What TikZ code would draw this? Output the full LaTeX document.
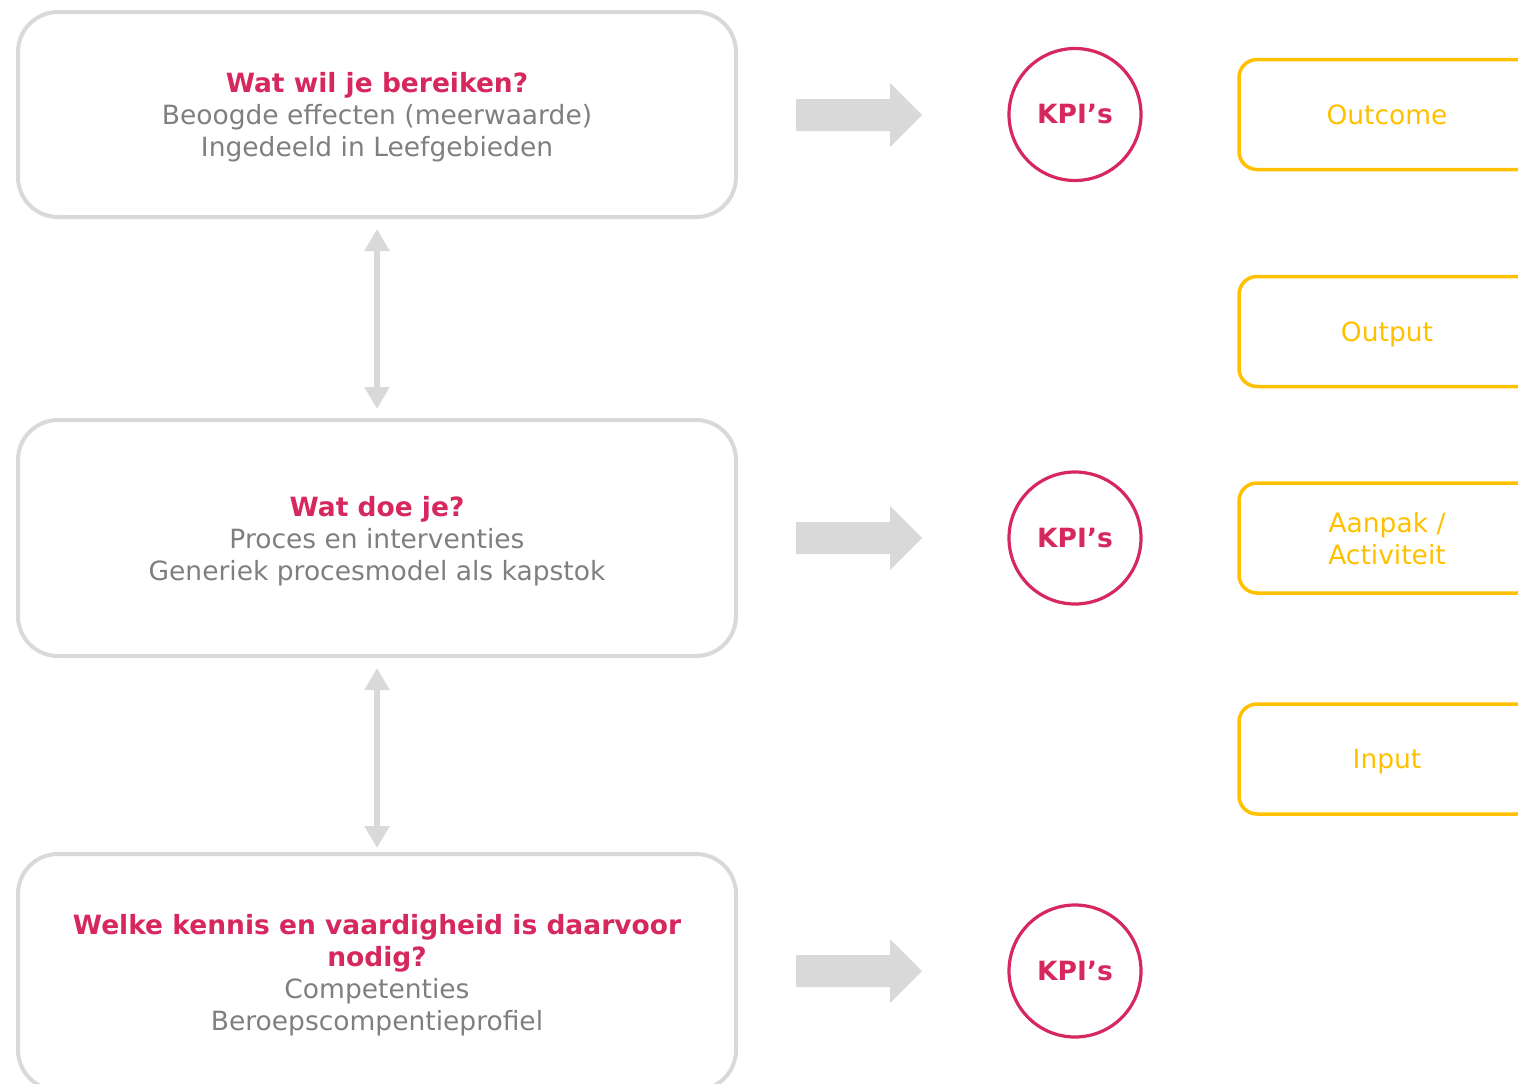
\documentclass[tikz,border=0pt]{standalone}
\usepackage{fontspec}
\setmainfont{DejaVu Sans}
\usetikzlibrary{arrows.meta}
\definecolor{kred}{RGB}{214,40,94}
\definecolor{kyel}{RGB}{255,192,0}
\definecolor{kgray}{RGB}{127,127,127}
\definecolor{lgray}{RGB}{217,217,217}
\newcommand{\qt}[1]{{\color{kred}\bfseries #1}}
\begin{document}
\begin{tikzpicture}[x=1pt,y=-1pt,
  txt/.style={font=\fontsize{26.5}{32}\selectfont},
  qbox/.style={txt, draw=lgray, line width=4pt, rounded corners=40pt, minimum width=718pt,
    inner sep=0pt, align=center, text=kgray, text depth=0pt},
  kpi/.style={txt, circle, draw=kred, line width=3.2pt, minimum size=132pt, inner sep=0pt,
    text=kred, font=\fontsize{26.5}{32}\selectfont\bfseries},
  ybox/.style={txt, draw=kyel, line width=3.5pt, rounded corners=18pt, minimum width=296pt,
    minimum height=110pt, inner sep=0pt, align=center, text=kyel, text depth=0pt},
  dbl/.style={draw=lgray, line width=6pt,
    {Triangle[width=24pt,length=22pt]}-{Triangle[width=24pt,length=22pt]}},
  blk/.style={fill=lgray, draw=none}
]
\useasboundingbox (0,0) rectangle (1518,1084);

% question boxes
\node[qbox, minimum height=205pt] (b1) at (377,114.5)
  {\qt{Wat wil je bereiken?}\\Beoogde effecten (meerwaarde)\\Ingedeeld in Leefgebieden};
\node[qbox, minimum height=236pt] (b2) at (377,538)
  {\qt{Wat doe je?}\\Proces en interventies\\Generiek procesmodel als kapstok};
\node[qbox, minimum height=236pt] (b3) at (377,972)
  {\qt{Welke kennis en vaardigheid is daarvoor}\\\qt{nodig?}\\Competenties\\Beroepscompentieprofiel};

% double arrows
\draw[dbl, shorten <=10pt, shorten >=9pt] (b1.south) -- (b2.north);
\draw[dbl, shorten <=10pt, shorten >=4pt] (b2.south) -- (b3.north);

% KPI circles
\node[kpi] (k1) at (1075,114.5) {KPI’s};
\node[kpi] (k2) at (1075,538) {KPI’s};
\node[kpi] (k3) at (1075,971) {KPI’s};

% block arrows
\foreach \yy in {115,538,971}{
  \fill[blk] (796,\yy-16) -- (890,\yy-16) -- (890,\yy-32) -- (922,\yy) -- (890,\yy+32)
    -- (890,\yy+16) -- (796,\yy+16) -- cycle;
}

% yellow boxes
\node[ybox] (y1) at (1387,114.5) {Outcome};
\node[ybox] (y2) at (1387,331.5) {Output};
\node[ybox] (y3) at (1387,538) {Aanpak /\\Activiteit};
\node[ybox] (y4) at (1387,759) {Input};
\end{tikzpicture}
\end{document}
